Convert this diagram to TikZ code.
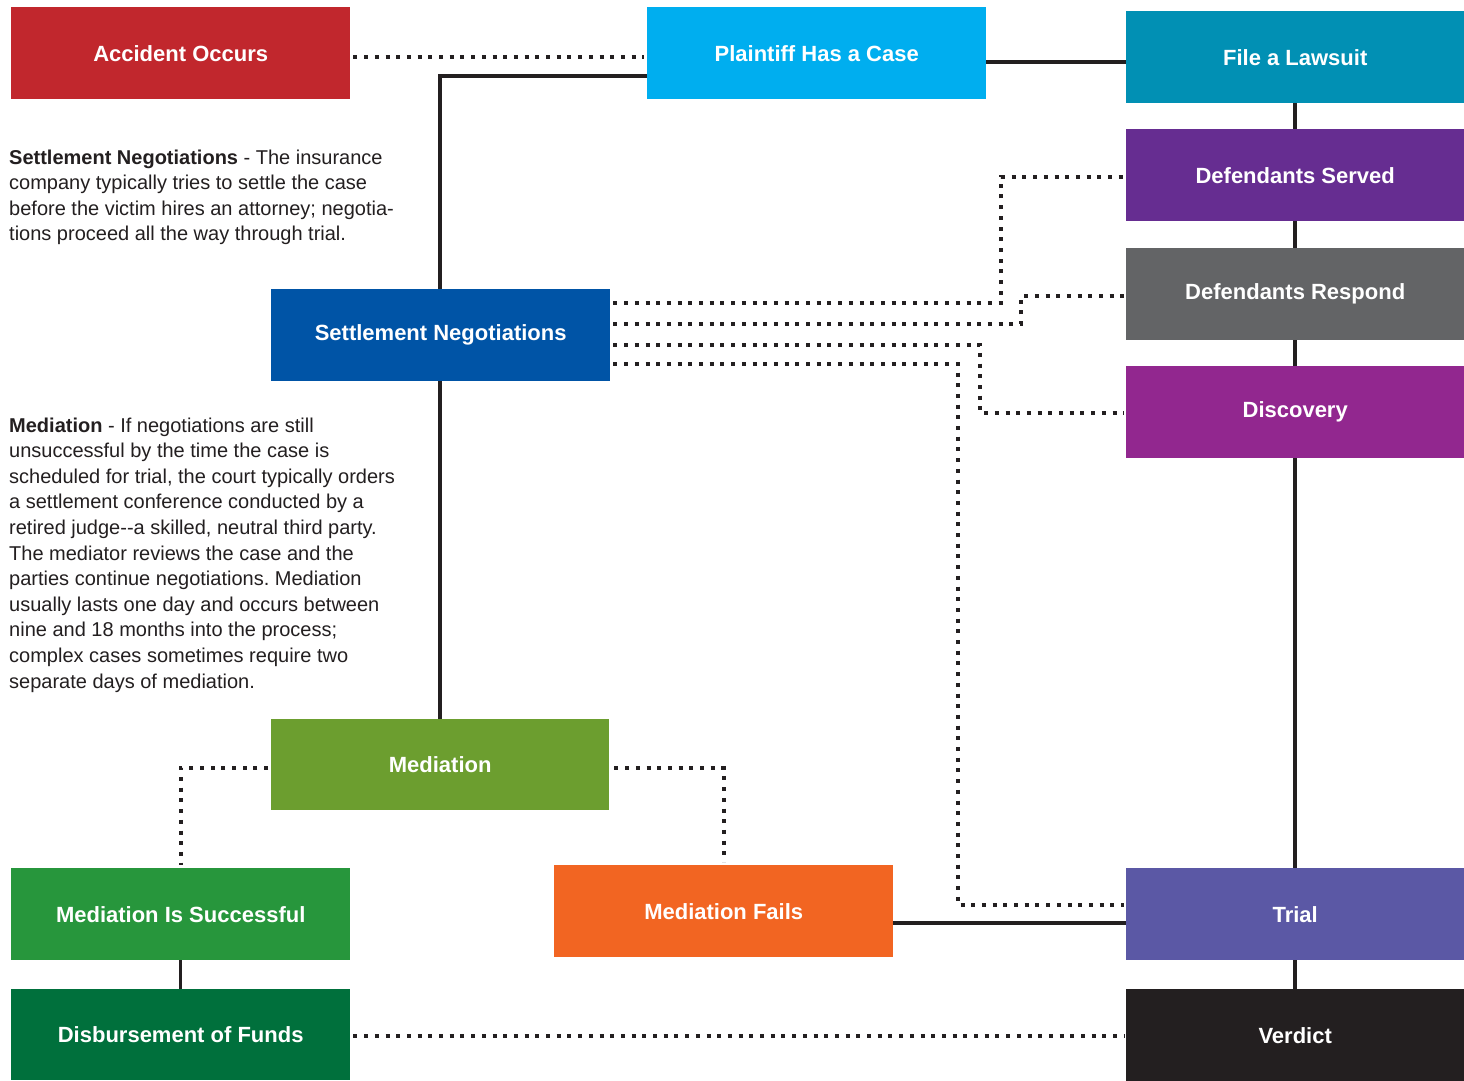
\documentclass[tikz,border=0pt]{standalone}
\usepackage{fontspec}
\setmainfont{Liberation Sans}
\usetikzlibrary{calc}
\frenchspacing
\definecolor{ink}{HTML}{231F20}
\definecolor{cAcc}{HTML}{C1272D}
\definecolor{cPlt}{HTML}{00AEEF}
\definecolor{cFil}{HTML}{0190B4}
\definecolor{cDsv}{HTML}{662D91}
\definecolor{cDrs}{HTML}{636466}
\definecolor{cDis}{HTML}{92278F}
\definecolor{cStl}{HTML}{0054A6}
\definecolor{cMed}{HTML}{6C9E2F}
\definecolor{cSuc}{HTML}{27963C}
\definecolor{cFai}{HTML}{F26522}
\definecolor{cTri}{HTML}{5B58A5}
\definecolor{cDsb}{HTML}{00703C}
\definecolor{cVer}{HTML}{231F20}
\tikzset{
  box/.style={anchor=north west, minimum width=339, minimum height=92, inner sep=0,
    font=\bfseries\fontsize{22}{26}\selectfont, text=white},
  solidline/.style={draw=ink, line width=3.5},
  dotline/.style={draw=ink, line width=4, dash pattern=on 4 off 6.7},
  desc/.style={anchor=base west, inner sep=0, text=ink, font=\fontsize{20}{25}\selectfont}
}
\begin{document}
\begin{tikzpicture}[x=1pt,y=-1pt]
\useasboundingbox[fill=white] (0,0) rectangle (1464,1081);
% boxes
\node[box, fill=cAcc] (acc) at (11,7) {Accident Occurs};
\node[box, fill=cPlt] (plt) at (647,7) {Plaintiff Has a Case};
\node[box, fill=cFil, minimum width=338] (fil) at (1126,11) {File a Lawsuit};
\node[box, fill=cDsv, minimum width=338] (dsv) at (1126,129) {Defendants Served};
\node[box, fill=cDrs, minimum width=338] (drs) at (1126,248) {Defendants Respond};
\node[box, fill=cDis, minimum width=338] (dis) at (1126,366) {Discovery};
\node[box, fill=cStl] (stl) at (271,289) {Settlement Negotiations};
\node[box, fill=cMed, minimum width=338, minimum height=91] (med) at (271,719) {Mediation};
\node[box, fill=cSuc] (suc) at (11,868) {Mediation Is Successful};
\node[box, fill=cFai] (fai) at (554,865) {Mediation Fails};
\node[box, fill=cTri, minimum width=338] (tri) at (1126,868) {Trial};
\node[box, fill=cDsb, minimum height=91] (dsb) at (11,989) {Disbursement of Funds};
\node[box, fill=cVer, minimum width=338] (ver) at (1126,989) {Verdict};

% solid connectors
\draw[solidline] (fil.south) -- (dsv.north);
\draw[solidline] (dsv.south) -- (drs.north);
\draw[solidline] (drs.south) -- (dis.north);
\draw[solidline] (dis.south) -- (tri.north);
\draw[solidline] (tri.south) -- (ver.north);
\draw[solidline] (plt.east |- 0,62) -- (fil.west |- 0,62);
\draw[solidline] (plt.west |- 0,76) -| (med.north |- stl.north);
\draw[solidline] (med.north |- stl.south) -- (med.north);
\draw[solidline] (suc.south) -- (dsb.north);
\draw[solidline] (fai.east |- 0,923) -- (tri.west |- 0,923);

% dotted connectors
\draw[dotline] ([xshift=3]acc.east |- 0,57) -- ([xshift=-3]plt.west |- 0,57);
\draw[dotline] ([xshift=3]stl.east |- 0,303) -- (1001,303) -- (1001,177) -- ([xshift=-2]dsv.west |- 0,177);
\draw[dotline] ([xshift=3]stl.east |- 0,324) -- (1021,324) -- (1021,296) -- ([xshift=-2]drs.west |- 0,296);
\draw[dotline] ([xshift=3]stl.east |- 0,345) -- (980,345) -- (980,413) -- ([xshift=-2]dis.west |- 0,413);
\draw[dotline] ([xshift=3]stl.east |- 0,364) -- (958,364) -- (958,905) -- ([xshift=-2]tri.west |- 0,905);
\draw[dotline] ([xshift=-3]med.west |- 0,768) -| ([yshift=3]suc.north);
\draw[dotline] ([xshift=5]med.east |- 0,768) -| ([yshift=3]fai.north);
\draw[dotline] ([xshift=3]dsb.east |- 0,1036) -- ([xshift=-2]ver.west |- 0,1036);

% description texts
\node[desc] (s1) at (9,164) {\textbf{Settlement Negotiations} - The insurance};
\node[desc] (s2) at (9,189.5) {company typically tries to settle the case};
\node[desc] (s3) at (9,215) {before the victim hires an attorney; negotia-};
\node[desc] (s4) at (9,240.5) {tions proceed all the way through trial.};

\node[desc] (m1) at (9,432) {\textbf{Mediation} - If negotiations are still};
\node[desc] (m2) at (9,457.6) {unsuccessful by the time the case is};
\node[desc] (m3) at (9,483.2) {scheduled for trial, the court typically orders};
\node[desc] (m4) at (9,508.8) {a settlement conference conducted by a};
\node[desc] (m5) at (9,534.4) {retired judge-{}-a skilled, neutral third party.};
\node[desc] (m6) at (9,560) {The mediator reviews the case and the};
\node[desc] (m7) at (9,585.6) {parties continue negotiations. Mediation};
\node[desc] (m8) at (9,611.2) {usually lasts one day and occurs between};
\node[desc] (m9) at (9,636.8) {nine and 18 months into the process;};
\node[desc] (m10) at (9,662.4) {complex cases sometimes require two};
\node[desc] (m11) at (9,688) {separate days of mediation.};
\end{tikzpicture}
\end{document}
